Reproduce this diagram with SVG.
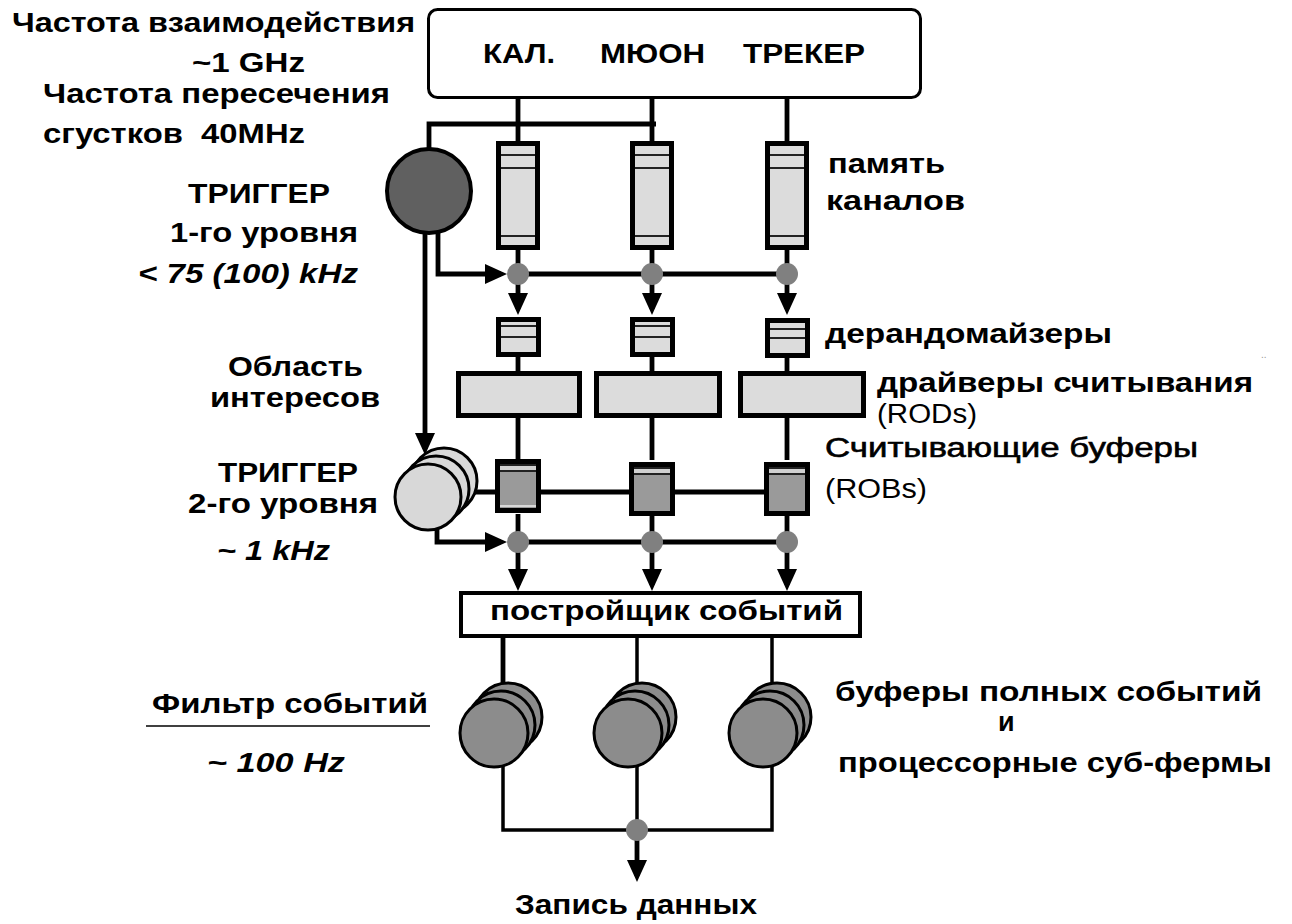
<svg xmlns="http://www.w3.org/2000/svg" width="1292" height="924" viewBox="0 0 1292 924">
<style>
.t{font-family:"Liberation Sans",Arial,sans-serif;font-weight:bold;font-size:27px;fill:#000}
.n{font-weight:normal}
.i{font-style:italic}
.ln{stroke:#000;stroke-width:4.8;fill:none}
.thin{stroke:#000;stroke-width:3.5;fill:none}
.dot{fill:#808080}
.mem{fill:#dcdcdc;stroke:#000;stroke-width:5}
.rob{fill:#9a9a9a;stroke:#000;stroke-width:5}
.in{stroke:#222;stroke-width:2}
.inl{stroke:#d8d8d8;stroke-width:2}
.c1{fill:#606060;stroke:#000;stroke-width:4}
.c2{fill:#d8d8d8;stroke:#000;stroke-width:3}
.c3{fill:#8c8c8c;stroke:#000;stroke-width:3}
</style>
<defs>
<marker id="arr" markerUnits="userSpaceOnUse" markerWidth="22" markerHeight="20" viewBox="0 0 22 20" refX="16" refY="10" orient="auto">
<path d="M0,0 L22,10 L0,20 Z" fill="#000"/>
</marker>
</defs>
<rect width="1292" height="924" fill="#fff"/>

<g id="connectors">
<line class="ln" x1="518" y1="98" x2="518" y2="141"/>
<line class="ln" x1="652" y1="98" x2="652" y2="141"/>
<line class="ln" x1="787" y1="98" x2="787" y2="141"/>
<path class="ln" d="M429,149 V124 H656"/>
<line class="ln" x1="518" y1="250" x2="518" y2="274"/>
<line class="ln" x1="652" y1="250" x2="652" y2="274"/>
<line class="ln" x1="787" y1="250" x2="787" y2="274"/>
<path class="ln" d="M438,233 V274 H501" marker-end="url(#arr)"/>
<line class="ln" x1="518" y1="274" x2="787" y2="274"/>
<line class="ln" x1="518" y1="274" x2="518" y2="309" marker-end="url(#arr)"/>
<line class="ln" x1="652" y1="274" x2="652" y2="309" marker-end="url(#arr)"/>
<line class="ln" x1="787" y1="274" x2="787" y2="309" marker-end="url(#arr)"/>
<line class="ln" x1="518" y1="357" x2="518" y2="371"/>
<line class="ln" x1="652" y1="357" x2="652" y2="371"/>
<line class="ln" x1="787" y1="357" x2="787" y2="371"/>
<line class="ln" x1="518" y1="418" x2="518" y2="460"/>
<line class="ln" x1="652" y1="418" x2="652" y2="460"/>
<line class="ln" x1="787" y1="418" x2="787" y2="460"/>
<line class="ln" x1="425" y1="233" x2="425" y2="449" marker-end="url(#arr)"/>
<line class="ln" x1="465" y1="492" x2="770" y2="492"/>
<line class="ln" x1="518" y1="514" x2="518" y2="542"/>
<line class="ln" x1="652" y1="514" x2="652" y2="542"/>
<line class="ln" x1="787" y1="514" x2="787" y2="542"/>
<path class="ln" d="M437,526 V542 H501" marker-end="url(#arr)"/>
<line class="ln" x1="518" y1="542" x2="787" y2="542"/>
<line class="ln" x1="518" y1="542" x2="518" y2="585" marker-end="url(#arr)"/>
<line class="ln" x1="652" y1="542" x2="652" y2="585" marker-end="url(#arr)"/>
<line class="ln" x1="787" y1="542" x2="787" y2="585" marker-end="url(#arr)"/>
<line class="ln" x1="503" y1="637" x2="503" y2="700"/>
<line class="thin" x1="637" y1="637" x2="637" y2="700"/>
<line class="thin" x1="772" y1="637" x2="772" y2="700"/>
<path class="thin" d="M503,762 V830 H772 V762"/>
<line class="thin" x1="637" y1="762" x2="637" y2="830"/>
<line class="ln" x1="637" y1="830" x2="637" y2="876" marker-end="url(#arr)"/>
<circle class="dot" cx="518" cy="274" r="11"/>
<circle class="dot" cx="652" cy="274" r="11"/>
<circle class="dot" cx="787" cy="274" r="11"/>
<circle class="dot" cx="518" cy="542" r="11"/>
<circle class="dot" cx="652" cy="542" r="11"/>
<circle class="dot" cx="787" cy="542" r="11"/>
<circle class="dot" cx="637" cy="830" r="11"/>
</g>

<g id="detectors">
<rect x="428.5" y="9.5" width="492" height="88" rx="9" fill="#fff" stroke="#000" stroke-width="3"/>
<text class="t" x="483" y="63" font-size="28" textLength="72" lengthAdjust="spacingAndGlyphs">КАЛ.</text>
<text class="t" x="600" y="63" font-size="28" textLength="105" lengthAdjust="spacingAndGlyphs">МЮОН</text>
<text class="t" x="743" y="63" font-size="28" textLength="122" lengthAdjust="spacingAndGlyphs">ТРЕКЕР</text>
</g>

<g id="trigger1">
<circle class="c1" cx="429" cy="191" r="42"/>
</g>

<g id="pipeline-memory">
<rect class="mem" x="498.5" y="143.5" width="39" height="104"/>
<line class="in" x1="501" y1="155" x2="535" y2="155"/><line class="in" x1="501" y1="168" x2="535" y2="168"/><line class="in" x1="501" y1="236" x2="535" y2="236"/>
<rect class="mem" x="632.5" y="143.5" width="39" height="104"/>
<line class="in" x1="635" y1="155" x2="669" y2="155"/><line class="in" x1="635" y1="168" x2="669" y2="168"/><line class="in" x1="635" y1="236" x2="669" y2="236"/>
<rect class="mem" x="767.5" y="143.5" width="39" height="104"/>
<line class="in" x1="770" y1="155" x2="804" y2="155"/><line class="in" x1="770" y1="168" x2="804" y2="168"/><line class="in" x1="770" y1="236" x2="804" y2="236"/>
</g>

<g id="derandomizers">
<rect class="mem" x="498.5" y="319.5" width="40" height="35"/>
<line class="in" x1="501" y1="326" x2="536" y2="326"/><line class="in" x1="501" y1="337" x2="536" y2="337"/>
<rect class="mem" x="632.5" y="319.5" width="40" height="35"/>
<line class="in" x1="635" y1="326" x2="670" y2="326"/><line class="in" x1="635" y1="337" x2="670" y2="337"/>
<rect class="mem" x="767.5" y="320.5" width="40" height="35"/>
<line class="in" x1="770" y1="329" x2="805" y2="329"/><line class="in" x1="770" y1="338" x2="805" y2="338"/>
</g>

<g id="rods">
<rect class="mem" x="458.5" y="373.5" width="121" height="42"/>
<rect class="mem" x="596.5" y="373.5" width="123" height="42"/>
<rect class="mem" x="740.5" y="373.5" width="123" height="42"/>
</g>

<g id="trigger2">
<circle class="c2" cx="444" cy="481" r="33"/>
<circle class="c2" cx="436" cy="489" r="33"/>
<circle class="c2" cx="428" cy="497" r="33"/>
</g>

<g id="robs">
<rect class="rob" x="497.5" y="461.5" width="41" height="49"/>
<rect x="500" y="465" width="36" height="6" fill="#d0d0d0"/>
<line class="in" x1="500" y1="465" x2="536" y2="465"/><line class="in" x1="500" y1="471" x2="536" y2="471"/><line class="inl" x1="500" y1="506" x2="536" y2="506"/>
<rect class="rob" x="631.5" y="464.5" width="41" height="49"/>
<rect x="634" y="468" width="36" height="6" fill="#d0d0d0"/>
<line class="in" x1="634" y1="468" x2="670" y2="468"/><line class="in" x1="634" y1="474" x2="670" y2="474"/>
<rect class="rob" x="766.5" y="464.5" width="41" height="49"/>
<rect x="769" y="468" width="36" height="6" fill="#d0d0d0"/>
<line class="in" x1="769" y1="468" x2="805" y2="468"/><line class="in" x1="769" y1="474" x2="805" y2="474"/>
</g>

<g id="event-builder">
<rect x="461" y="593" width="399" height="43" fill="#fff" stroke="#000" stroke-width="4"/>
<text class="t" x="490" y="620" textLength="353" lengthAdjust="spacingAndGlyphs">постройщик событий</text>
</g>

<g id="event-filters">
<circle class="c3" cx="508" cy="717" r="34"/><circle class="c3" cx="501" cy="725" r="34"/><circle class="c3" cx="494" cy="733" r="34"/>
<circle class="c3" cx="642" cy="717" r="34"/><circle class="c3" cx="635" cy="725" r="34"/><circle class="c3" cx="628" cy="733" r="34"/>
<circle class="c3" cx="777" cy="717" r="34"/><circle class="c3" cx="770" cy="725" r="34"/><circle class="c3" cx="763" cy="733" r="34"/>
</g>

<g id="labels-left">
<text class="t" x="12" y="32" textLength="403" lengthAdjust="spacingAndGlyphs">Частота взаимодействия</text>
<text class="t" x="192" y="72" textLength="113" lengthAdjust="spacingAndGlyphs">~1 GHz</text>
<text class="t" x="43" y="103" textLength="347" lengthAdjust="spacingAndGlyphs">Частота пересечения</text>
<text class="t" x="43" y="143" textLength="262" lengthAdjust="spacingAndGlyphs" xml:space="preserve">сгустков  40MHz</text>
<text class="t" x="188" y="203" textLength="142" lengthAdjust="spacingAndGlyphs">ТРИГГЕР</text>
<text class="t" x="170" y="242" textLength="188" lengthAdjust="spacingAndGlyphs">1-го уровня</text>
<text class="t i" x="138" y="283" textLength="220" lengthAdjust="spacingAndGlyphs">&lt; 75 (100) kHz</text>
<text class="t" x="228" y="376" textLength="135" lengthAdjust="spacingAndGlyphs">Область</text>
<text class="t" x="210" y="407" textLength="170" lengthAdjust="spacingAndGlyphs">интересов</text>
<text class="t" x="218" y="482" textLength="140" lengthAdjust="spacingAndGlyphs">ТРИГГЕР</text>
<text class="t" x="188" y="513" textLength="190" lengthAdjust="spacingAndGlyphs">2-го уровня</text>
<text class="t i" x="217" y="560" textLength="113" lengthAdjust="spacingAndGlyphs">~ 1 kHz</text>
<text class="t" x="152" y="713" textLength="276" lengthAdjust="spacingAndGlyphs">Фильтр событий</text>
<line x1="146" y1="726" x2="430" y2="726" stroke="#000" stroke-width="1.5"/>
<text class="t i" x="207" y="772" textLength="138" lengthAdjust="spacingAndGlyphs">~ 100 Hz</text>
</g>

<g id="labels-right">
<text class="t" x="828" y="173" textLength="117" lengthAdjust="spacingAndGlyphs">память</text>
<text class="t" x="826" y="210" textLength="139" lengthAdjust="spacingAndGlyphs">каналов</text>
<text class="t" x="825" y="343" textLength="287" lengthAdjust="spacingAndGlyphs">дерандомайзеры</text>
<text x="1261" y="358" font-family="Liberation Sans, sans-serif" font-size="10" fill="#999">..</text>
<text class="t" x="877" y="392" textLength="376" lengthAdjust="spacingAndGlyphs">драйверы считывания</text>
<text class="t n" x="877" y="423" textLength="100" lengthAdjust="spacingAndGlyphs">(RODs)</text>
<text class="t n" x="825" y="457" textLength="373" lengthAdjust="spacingAndGlyphs" stroke="#000" stroke-width="0.6">Считывающие буферы</text>
<text class="t n" x="825" y="498" textLength="102" lengthAdjust="spacingAndGlyphs">(ROBs)</text>
<text class="t" x="835" y="701" textLength="427" lengthAdjust="spacingAndGlyphs">буферы полных событий</text>
<text class="t" x="998" y="731">и</text>
<text class="t" x="838" y="772" textLength="434" lengthAdjust="spacingAndGlyphs">процессорные суб-фермы</text>
</g>

<g id="output">
<text class="t" x="515" y="914" textLength="242" lengthAdjust="spacingAndGlyphs">Запись данных</text>
</g>
</svg>
